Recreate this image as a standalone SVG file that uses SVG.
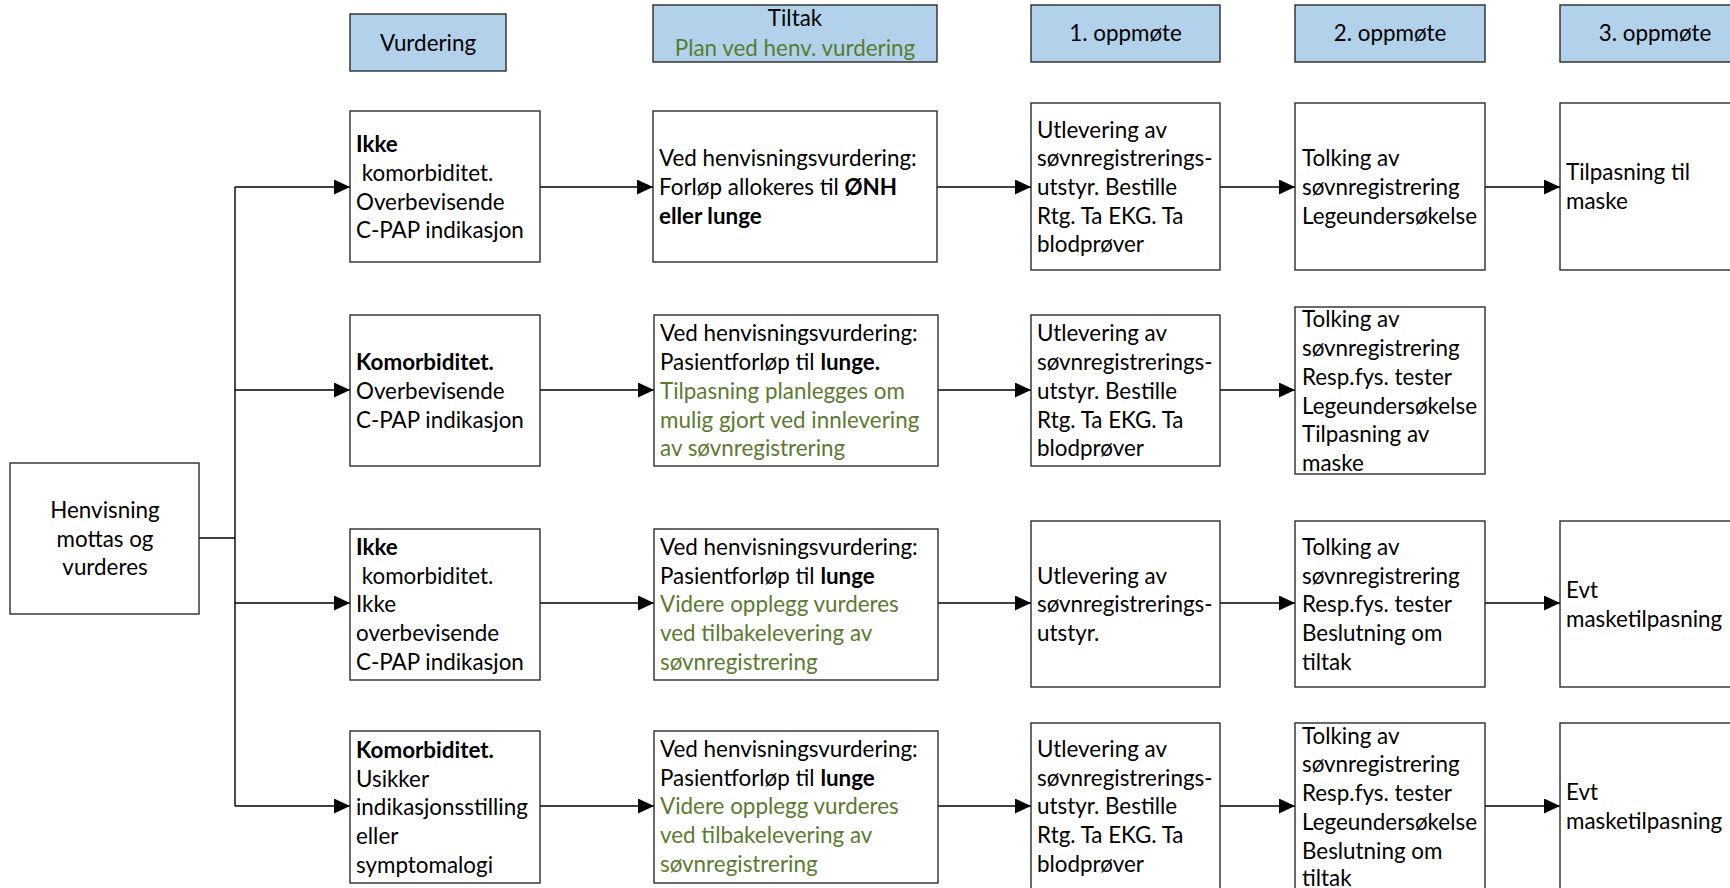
<svg xmlns="http://www.w3.org/2000/svg" width="1730" height="888" viewBox="0 0 1730 888">
  <defs>
    <marker id="arrow" markerUnits="userSpaceOnUse" markerWidth="16" markerHeight="16" refX="16" refY="7.5" orient="auto">
      <path d="M0,0 L16,7.5 L0,15 Z" fill="#000"/>
    </marker>
    <style>
      text { font-family: Lato, "Open Sans", "Liberation Sans", sans-serif; font-size: 22.4px; fill: #000; }
      .box { fill: #fff; stroke: #2b2b2b; stroke-width: 1.4; }
      .head { fill: #b1d2ea; stroke: #2b2b2b; stroke-width: 1.4; }
      .g { fill: #5b7a31; }
      .b { font-weight: bold; }
      .c { text-anchor: middle; }
      .con { fill: none; stroke: #000; stroke-width: 1.4; }
      .arr { marker-end: url(#arrow); }
    </style>
  </defs>

  <rect width="1730" height="888" fill="#fff"/>

  <!-- column headers -->
  <g id="head-vurdering">
    <rect class="head" x="350" y="14" width="156" height="57"/>
    <text class="c" x="428" y="50.5">Vurdering</text>
  </g>
  <g id="head-tiltak">
    <rect class="head" x="653" y="5" width="284" height="57"/>
    <text class="c" x="795" y="26">Tiltak</text>
    <text class="c g" x="795" y="55.5">Plan ved henv. vurdering</text>
  </g>
  <g id="head-oppmote1">
    <rect class="head" x="1031" y="5" width="189" height="57"/>
    <text class="c" x="1125.5" y="41">1. oppmøte</text>
  </g>
  <g id="head-oppmote2">
    <rect class="head" x="1295" y="5" width="190" height="57"/>
    <text class="c" x="1390" y="41">2. oppmøte</text>
  </g>
  <g id="head-oppmote3">
    <rect class="head" x="1560" y="5" width="190" height="57"/>
    <text class="c" x="1655" y="41">3. oppmøte</text>
  </g>

  <!-- connectors -->
  <g id="connectors">
    <path class="con" d="M199,538 H235 M235,187 V806"/>
    <path class="con arr" d="M235,187 H350"/>
    <path class="con arr" d="M235,390 H350"/>
    <path class="con arr" d="M235,603 H350"/>
    <path class="con arr" d="M235,806 H350"/>

    <path class="con arr" d="M540,187 H653"/>
    <path class="con arr" d="M937,187 H1031"/>
    <path class="con arr" d="M1220,187 H1295"/>
    <path class="con arr" d="M1485,187 H1560"/>

    <path class="con arr" d="M540,390 H654"/>
    <path class="con arr" d="M938,390 H1031"/>
    <path class="con arr" d="M1220,390 H1295"/>

    <path class="con arr" d="M540,603 H654"/>
    <path class="con arr" d="M938,603 H1031"/>
    <path class="con arr" d="M1220,603 H1295"/>
    <path class="con arr" d="M1485,603 H1560"/>

    <path class="con arr" d="M540,806 H654"/>
    <path class="con arr" d="M938,806 H1031"/>
    <path class="con arr" d="M1220,806 H1295"/>
    <path class="con arr" d="M1485,806 H1560"/>
  </g>

  <!-- start node -->
  <g id="henvisning">
    <rect class="box" x="10" y="463" width="189" height="151"/>
    <text class="c" x="105" y="518">Henvisning</text>
    <text class="c" x="105" y="547">mottas og</text>
    <text class="c" x="105" y="575">vurderes</text>
  </g>

  <!-- row 1 -->
  <g id="r1-vurdering">
    <rect class="box" x="350" y="111" width="190" height="151"/>
    <text x="356" y="152" class="b">Ikke</text>
    <text x="356" y="181" xml:space="preserve"> komorbiditet.</text>
    <text x="356" y="209.5">Overbevisende</text>
    <text x="356" y="238">C-PAP indikasjon</text>
  </g>
  <g id="r1-tiltak">
    <rect class="box" x="653" y="111" width="284" height="151"/>
    <text x="659" y="165.5">Ved henvisningsvurdering:</text>
    <text x="659" y="194.5">Forløp allokeres til <tspan class="b">ØNH</tspan></text>
    <text x="659" y="223.5" class="b">eller lunge</text>
  </g>
  <g id="r1-oppmote1">
    <rect class="box" x="1031" y="103" width="189" height="167"/>
    <text x="1037" y="137.5">Utlevering av</text>
    <text x="1037" y="166">søvnregistrerings-</text>
    <text x="1037" y="194.5">utstyr. Bestille</text>
    <text x="1037" y="223.5">Rtg. Ta EKG. Ta</text>
    <text x="1037" y="252">blodprøver</text>
  </g>
  <g id="r1-oppmote2">
    <rect class="box" x="1295" y="103" width="190" height="167"/>
    <text x="1302" y="166">Tolking av</text>
    <text x="1302" y="194.5">søvnregistrering</text>
    <text x="1302" y="223.5">Legeundersøkelse</text>
  </g>
  <g id="r1-oppmote3">
    <rect class="box" x="1560" y="103" width="190" height="167"/>
    <text x="1566" y="180">Tilpasning til</text>
    <text x="1566" y="209">maske</text>
  </g>

  <!-- row 2 -->
  <g id="r2-vurdering">
    <rect class="box" x="350" y="315" width="190" height="151"/>
    <text x="356" y="370" class="b">Komorbiditet.</text>
    <text x="356" y="398.5">Overbevisende</text>
    <text x="356" y="427.5">C-PAP indikasjon</text>
  </g>
  <g id="r2-tiltak">
    <rect class="box" x="654" y="315" width="284" height="151"/>
    <text x="660" y="341">Ved henvisningsvurdering:</text>
    <text x="660" y="370">Pasientforløp til <tspan class="b">lunge.</tspan></text>
    <text x="660" y="398.5" class="g">Tilpasning planlegges om</text>
    <text x="660" y="427.5" class="g">mulig gjort ved innlevering</text>
    <text x="660" y="456" class="g">av søvnregistrering</text>
  </g>
  <g id="r2-oppmote1">
    <rect class="box" x="1031" y="315" width="189" height="151"/>
    <text x="1037" y="341">Utlevering av</text>
    <text x="1037" y="370">søvnregistrerings-</text>
    <text x="1037" y="398.5">utstyr. Bestille</text>
    <text x="1037" y="427.5">Rtg. Ta EKG. Ta</text>
    <text x="1037" y="456">blodprøver</text>
  </g>
  <g id="r2-oppmote2">
    <rect class="box" x="1295" y="307" width="190" height="167"/>
    <text x="1302" y="327">Tolking av</text>
    <text x="1302" y="356">søvnregistrering</text>
    <text x="1302" y="384.5">Resp.fys. tester</text>
    <text x="1302" y="413.5">Legeundersøkelse</text>
    <text x="1302" y="442">Tilpasning av</text>
    <text x="1302" y="470.5">maske</text>
  </g>

  <!-- row 3 -->
  <g id="r3-vurdering">
    <rect class="box" x="350" y="529" width="190" height="151"/>
    <text x="356" y="554.5" class="b">Ikke</text>
    <text x="356" y="583.5" xml:space="preserve"> komorbiditet.</text>
    <text x="356" y="612">Ikke</text>
    <text x="356" y="641">overbevisende</text>
    <text x="356" y="669.5">C-PAP indikasjon</text>
  </g>
  <g id="r3-tiltak">
    <rect class="box" x="654" y="529" width="284" height="151"/>
    <text x="660" y="554.5">Ved henvisningsvurdering:</text>
    <text x="660" y="583.5">Pasientforløp til <tspan class="b">lunge</tspan></text>
    <text x="660" y="612" class="g">Videre opplegg vurderes</text>
    <text x="660" y="641" class="g">ved tilbakelevering av</text>
    <text x="660" y="669.5" class="g">søvnregistrering</text>
  </g>
  <g id="r3-oppmote1">
    <rect class="box" x="1031" y="521" width="189" height="166"/>
    <text x="1037" y="583.5">Utlevering av</text>
    <text x="1037" y="612">søvnregistrerings-</text>
    <text x="1037" y="641">utstyr.</text>
  </g>
  <g id="r3-oppmote2">
    <rect class="box" x="1295" y="521" width="190" height="166"/>
    <text x="1302" y="554.5">Tolking av</text>
    <text x="1302" y="583.5">søvnregistrering</text>
    <text x="1302" y="612">Resp.fys. tester</text>
    <text x="1302" y="641">Beslutning om</text>
    <text x="1302" y="669.5">tiltak</text>
  </g>
  <g id="r3-oppmote3">
    <rect class="box" x="1560" y="521" width="190" height="166"/>
    <text x="1566" y="598">Evt</text>
    <text x="1566" y="626.5">masketilpasning</text>
  </g>

  <!-- row 4 -->
  <g id="r4-vurdering">
    <rect class="box" x="350" y="731" width="190" height="152"/>
    <text x="356" y="758" class="b">Komorbiditet.</text>
    <text x="356" y="786.5">Usikker</text>
    <text x="356" y="815">indikasjonsstilling</text>
    <text x="356" y="844">eller</text>
    <text x="356" y="872.5">symptomalogi</text>
  </g>
  <g id="r4-tiltak">
    <rect class="box" x="654" y="731" width="284" height="152"/>
    <text x="660" y="756.5">Ved henvisningsvurdering:</text>
    <text x="660" y="785.5">Pasientforløp til <tspan class="b">lunge</tspan></text>
    <text x="660" y="814" class="g">Videre opplegg vurderes</text>
    <text x="660" y="843" class="g">ved tilbakelevering av</text>
    <text x="660" y="871.5" class="g">søvnregistrering</text>
  </g>
  <g id="r4-oppmote1">
    <rect class="box" x="1031" y="723" width="189" height="170"/>
    <text x="1037" y="756.5">Utlevering av</text>
    <text x="1037" y="785.5">søvnregistrerings-</text>
    <text x="1037" y="814">utstyr. Bestille</text>
    <text x="1037" y="843">Rtg. Ta EKG. Ta</text>
    <text x="1037" y="871.5">blodprøver</text>
  </g>
  <g id="r4-oppmote2">
    <rect class="box" x="1295" y="723" width="190" height="170"/>
    <text x="1302" y="743.5">Tolking av</text>
    <text x="1302" y="772">søvnregistrering</text>
    <text x="1302" y="801">Resp.fys. tester</text>
    <text x="1302" y="829.5">Legeundersøkelse</text>
    <text x="1302" y="858.5">Beslutning om</text>
    <text x="1302" y="885.5">tiltak</text>
  </g>
  <g id="r4-oppmote3">
    <rect class="box" x="1560" y="723" width="190" height="170"/>
    <text x="1566" y="800">Evt</text>
    <text x="1566" y="828.5">masketilpasning</text>
  </g>
</svg>
